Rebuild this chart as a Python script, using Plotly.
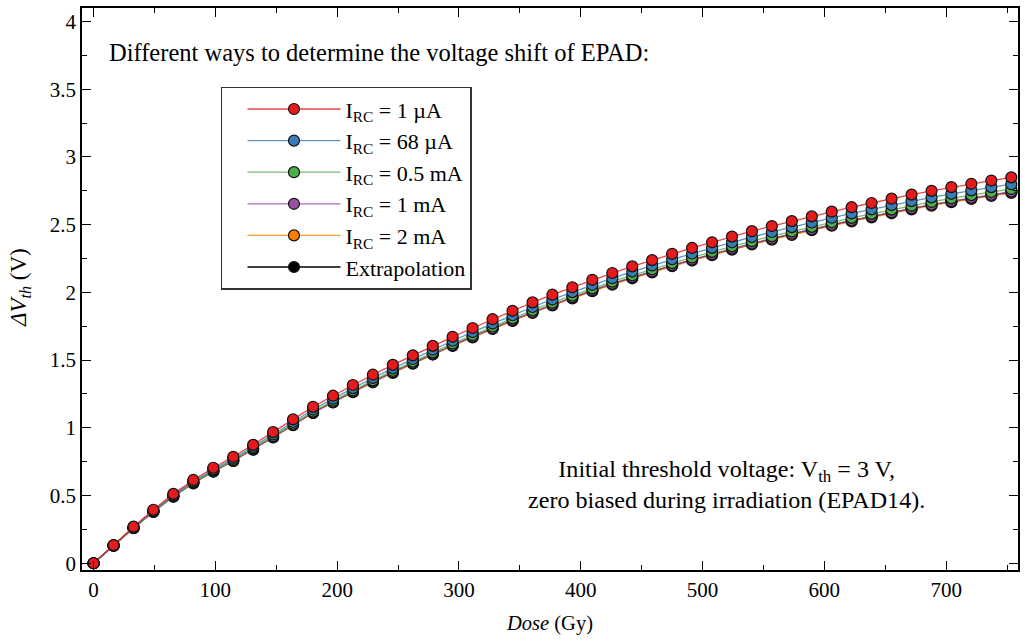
import plotly.graph_objects as go

# Absorbed dose (Gy) at each measurement step
dose = [0, 16.4, 32.8, 49.1, 65.5, 81.9, 98.3, 114.7, 131.0, 147.4, 163.8, 180.2,
        196.6, 212.9, 229.3, 245.7, 262.1, 278.5, 294.8, 311.2, 327.6, 344.0, 360.4,
        376.7, 393.1, 409.5, 425.9, 442.3, 458.6, 475.0, 491.4, 507.8, 524.2, 540.5,
        556.9, 573.3, 589.7, 606.1, 622.4, 638.8, 655.2, 671.6, 688.0, 704.3, 720.7,
        737.1, 753.5]

# Threshold voltage shift (V) for each read-out method
dv_1uA = [0, 0.134, 0.270, 0.395, 0.512, 0.615, 0.705, 0.786, 0.874, 0.968, 1.062, 1.155,
          1.237, 1.316, 1.392, 1.465, 1.535, 1.605, 1.672, 1.737, 1.802, 1.864, 1.926,
          1.983, 2.038, 2.093, 2.143, 2.192, 2.238, 2.285, 2.328, 2.370, 2.412, 2.452,
          2.490, 2.526, 2.561, 2.596, 2.629, 2.660, 2.692, 2.722, 2.750, 2.777, 2.802,
          2.826, 2.849]
dv_68uA = [0, 0.132, 0.265, 0.388, 0.503, 0.604, 0.693, 0.772, 0.859, 0.951, 1.043, 1.135,
           1.215, 1.293, 1.368, 1.439, 1.508, 1.577, 1.643, 1.707, 1.770, 1.831, 1.892,
           1.948, 2.002, 2.056, 2.105, 2.154, 2.199, 2.245, 2.287, 2.329, 2.370, 2.409,
           2.446, 2.482, 2.516, 2.551, 2.583, 2.613, 2.645, 2.674, 2.702, 2.728, 2.753,
           2.777, 2.799]
dv_05mA = [0, 0.130, 0.262, 0.383, 0.497, 0.597, 0.684, 0.762, 0.848, 0.939, 1.030, 1.120,
           1.200, 1.277, 1.350, 1.421, 1.489, 1.557, 1.622, 1.685, 1.748, 1.808, 1.868,
           1.924, 1.977, 2.030, 2.079, 2.126, 2.171, 2.216, 2.258, 2.299, 2.340, 2.378,
           2.415, 2.450, 2.484, 2.518, 2.550, 2.580, 2.611, 2.640, 2.668, 2.694, 2.718,
           2.741, 2.764]
dv_1mA = [0, 0.129, 0.260, 0.380, 0.493, 0.592, 0.679, 0.757, 0.842, 0.932, 1.023, 1.112,
          1.191, 1.267, 1.341, 1.411, 1.478, 1.546, 1.610, 1.673, 1.735, 1.795, 1.855,
          1.910, 1.963, 2.016, 2.064, 2.111, 2.155, 2.200, 2.242, 2.282, 2.323, 2.361,
          2.398, 2.433, 2.466, 2.500, 2.532, 2.562, 2.592, 2.621, 2.648, 2.674, 2.698,
          2.721, 2.744]
dv_2mA = [0, 0.129, 0.259, 0.379, 0.492, 0.590, 0.677, 0.755, 0.839, 0.929, 1.020, 1.109,
          1.188, 1.263, 1.336, 1.406, 1.474, 1.541, 1.605, 1.668, 1.730, 1.789, 1.849,
          1.904, 1.956, 2.009, 2.057, 2.104, 2.148, 2.194, 2.235, 2.275, 2.316, 2.354,
          2.390, 2.425, 2.459, 2.492, 2.524, 2.554, 2.584, 2.613, 2.640, 2.666, 2.690,
          2.713, 2.735]
dv_extrap = [0, 0.129, 0.260, 0.380, 0.493, 0.592, 0.678, 0.756, 0.841, 0.931, 1.022, 1.111,
             1.190, 1.266, 1.339, 1.409, 1.477, 1.544, 1.608, 1.671, 1.734, 1.793, 1.853,
             1.908, 1.961, 2.013, 2.062, 2.109, 2.153, 2.198, 2.240, 2.280, 2.320, 2.359,
             2.395, 2.430, 2.464, 2.497, 2.529, 2.559, 2.590, 2.619, 2.646, 2.671, 2.696,
             2.719, 2.741]

series_names = ["I<sub>RC</sub> = 1 µA", "I<sub>RC</sub> = 68 µA", "I<sub>RC</sub> = 0.5 mA",
                "I<sub>RC</sub> = 1 mA", "I<sub>RC</sub> = 2 mA", "Extrapolation"]
series_values = [dv_1uA, dv_68uA, dv_05mA, dv_1mA, dv_2mA, dv_extrap]
marker_colors = ["#e41a1c", "#377eb8", "#4daf4a", "#984ea3", "#ff7f00", "#000000"]
line_colors = ["rgba(228,26,28,0.8)", "rgba(55,126,184,0.8)", "rgba(77,175,74,0.8)",
               "rgba(152,78,163,0.8)", "rgba(255,127,0,0.8)", "rgba(0,0,0,1)"]

FONT = "Liberation Serif, Times New Roman, serif"

fig = go.Figure()
# draw the extrapolation first so the 1 µA markers end up on top
for name, vals, mc, lc in reversed(list(zip(series_names, series_values, marker_colors, line_colors))):
    fig.add_trace(go.Scatter(
        x=dose, y=vals, name=name, mode="lines+markers",
        line=dict(color=lc, width=1.3),
        marker=dict(size=11, color=mc, line=dict(color="#111111", width=1.2)),
    ))

axis_common = dict(
    showline=True, linecolor="black", linewidth=1.6, mirror="allticks",
    ticks="inside", ticklen=9, tickwidth=1.3, tickcolor="black",
    showgrid=False, zeroline=False,
    tickfont=dict(family=FONT, size=21, color="black"),
)

fig.update_xaxes(
    range=[-9.5, 759], tickvals=[0, 100, 200, 300, 400, 500, 600, 700],
    minor=dict(ticks="inside", ticklen=5, tickwidth=1.1, tickcolor="black", dtick=50, tick0=0),
    title=dict(text="<i>Dose</i> (Gy)", font=dict(family=FONT, size=20.5, color="black"), standoff=15),
    **axis_common,
)
fig.update_yaxes(
    range=[-0.05, 4.1], tickvals=[0, 0.5, 1, 1.5, 2, 2.5, 3, 3.5, 4],
    ticktext=["0", "0.5", "1", "1.5", "2", "2.5", "3", "3.5", "4"],
    minor=dict(ticks="inside", ticklen=5, tickwidth=1.1, tickcolor="black", dtick=0.25, tick0=0),
    **axis_common,
)

# y-axis title, set further out than the axis title standoff allows
fig.add_annotation(
    xref="paper", yref="paper", x=-0.066, y=0.502, xanchor="center", yanchor="middle",
    text="<i>ΔV<sub>th</sub></i> (V)", textangle=-90, showarrow=False,
    font=dict(family=FONT, size=23, color="black"),
)
fig.add_annotation(
    xref="paper", yref="paper", x=0.027, y=0.92, xanchor="left", yanchor="middle",
    text="Different ways to determine the voltage shift of EPAD:", showarrow=False,
    font=dict(family=FONT, size=24.5, color="black"),
)
fig.add_annotation(
    xref="paper", yref="paper", x=0.689, y=0.152, xanchor="center", yanchor="middle",
    text="Initial threshold voltage: V<sub>th</sub> = 3 V,<br>zero biased during irradiation (EPAD14).",
    showarrow=False, align="center",
    font=dict(family=FONT, size=24.1, color="black"),
)

fig.update_layout(
    width=1025, height=642,
    margin=dict(l=82, r=5, t=8, b=72),
    paper_bgcolor="white", plot_bgcolor="white",
    showlegend=True,
    legend=dict(
        x=0.1485, y=0.86, xanchor="left", yanchor="top",
        traceorder="reversed", bgcolor="white",
        bordercolor="#333333", borderwidth=1.5,
        font=dict(family=FONT, size=22, color="black"),
        indentation=20, itemwidth=93,
    ),
)

fig.write_html("out.html")
